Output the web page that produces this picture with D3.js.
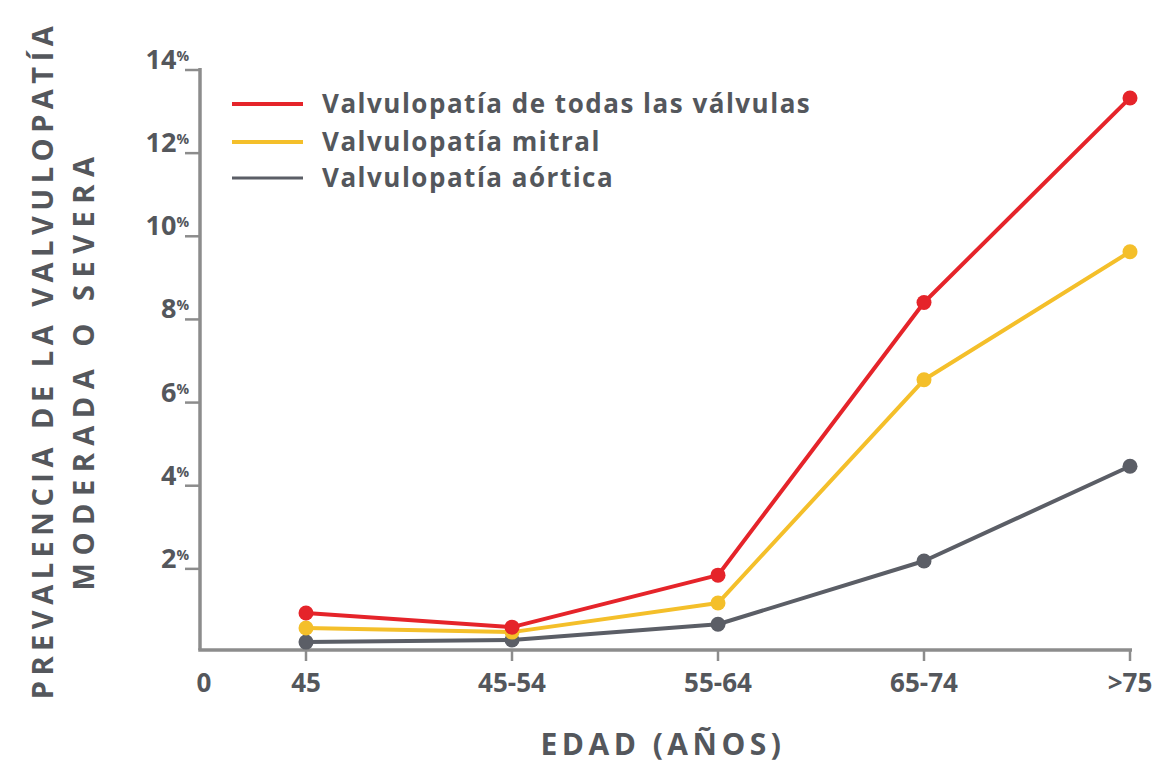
<!DOCTYPE html>
<html>
<head>
<meta charset="utf-8">
<script src="https://cdn.jsdelivr.net/npm/d3@7"></script>
<style>
  body { margin: 0; background: #fff; }
  text { font-family: "Open Sans", sans-serif; }
</style>
</head>
<body>
<svg id="chart" width="1159" height="767"></svg>
<script>
// data
var ages = ["45", "45-54", "55-64", "65-74", ">75"];
var todas = [0.89, 0.55, 1.8, 8.36, 13.28];
var mitral = [0.53, 0.43, 1.13, 6.5, 9.58];
var aortica = [0.19, 0.24, 0.62, 2.14, 4.42];
var yTicks = [2, 4, 6, 8, 10, 12, 14];
var seriesNames = ["Valvulopatía de todas las válvulas", "Valvulopatía mitral", "Valvulopatía aórtica"];
var seriesColors = ["#e5242a", "#f4bf2a", "#5b5e66"];

var margin = {top: 68, right: 19, bottom: 117, left: 200},
    width = 1159 - margin.left - margin.right,
    height = 767 - margin.top - margin.bottom;

var svg = d3.select("#chart")
  .append("g")
  .attr("transform", "translate(" + margin.left + "," + margin.top + ")");

var x = d3.scalePoint().domain(ages).range([106, 930]);
var y = d3.scaleLinear().domain([0, 14]).range([height, 0]);

var textCol = "#54575c", axisCol = "#8c8c8c";

// axes lines
svg.append("line").attr("x1", 0).attr("x2", 0).attr("y1", 0).attr("y2", height)
  .attr("stroke", axisCol).attr("stroke-width", 3.5);
svg.append("line").attr("x1", -1.75).attr("x2", 932).attr("y1", height).attr("y2", height)
  .attr("stroke", axisCol).attr("stroke-width", 3.5);

// y ticks
var yt = svg.selectAll(".ytick").data(yTicks).enter().append("g")
  .attr("transform", function(d) { return "translate(0," + (y(d) + 2) + ")"; });
yt.append("line").attr("x1", -15).attr("x2", 0).attr("stroke", axisCol).attr("stroke-width", 2.5);
var ytx = yt.append("text").attr("x", -11).attr("y", -1).attr("text-anchor", "end")
  .attr("fill", textCol).style("font-weight", 700).style("font-size", "27px");
ytx.append("tspan").text(function(d) { return d; });
ytx.append("tspan").attr("dy", -8).style("font-size", "14px").text("%");

// x ticks
var xt = svg.selectAll(".xtick").data(ages).enter().append("g")
  .attr("transform", function(d) { return "translate(" + x(d) + "," + height + ")"; });
xt.append("line").attr("y1", 0).attr("y2", 11).attr("stroke", axisCol).attr("stroke-width", 2.5);
xt.append("text").attr("y", 42).attr("text-anchor", "middle").attr("fill", textCol)
  .style("font-weight", 700).style("font-size", "26px").text(function(d) { return d; });
svg.append("text").attr("x", 4).attr("y", height + 42).attr("text-anchor", "middle").attr("fill", textCol)
  .style("font-weight", 700).style("font-size", "26px").text("0");

// lines
var line = d3.line().x(function(d, i) { return x(ages[i]); }).y(function(d) { return y(d); });
var series = [aortica, mitral, todas];
var cols = [seriesColors[2], seriesColors[1], seriesColors[0]];
series.forEach(function(s, k) {
  svg.append("path").datum(s).attr("d", line).attr("fill", "none")
    .attr("stroke", cols[k]).attr("stroke-width", 4).attr("stroke-linejoin", "round");
});
series.forEach(function(s, k) {
  svg.selectAll(".pt" + k).data(s).enter().append("circle")
    .attr("cx", function(d, i) { return x(ages[i]); })
    .attr("cy", function(d) { return y(d); })
    .attr("r", 7.5).attr("fill", cols[k]);
});

// legend
var leg = svg.selectAll(".leg").data(seriesNames).enter().append("g")
  .attr("transform", function(d, i) { return "translate(32," + [36, 74, 110][i] + ")"; });
leg.append("line").attr("x1", 0).attr("x2", 71).attr("stroke", function(d, i) { return seriesColors[i]; })
  .attr("stroke-width", function(d, i) { return i == 2 ? 3 : 4; });
leg.append("text").attr("x", 90).attr("y", 9).attr("fill", textCol)
  .style("font-weight", 700).style("font-size", "26px").style("letter-spacing", "1.5px")
  .text(function(d) { return d; });

// axis titles
svg.append("text").attr("x", 463).attr("y", height + 105).attr("text-anchor", "middle")
  .attr("fill", textCol).style("font-weight", 700).style("font-size", "30px")
  .style("letter-spacing", "4.5px").text("EDAD (AÑOS)");

var yt1 = d3.select("#chart").append("text")
  .attr("transform", "translate(53,360) rotate(-90)").attr("text-anchor", "middle")
  .attr("fill", textCol).style("font-weight", 700).style("font-size", "29px").style("letter-spacing", "5.5px");
yt1.append("tspan").attr("x", 0).attr("y", 0).text("PREVALENCIA DE LA VALVULOPATÍA");
yt1.append("tspan").attr("x", -10).attr("y", 41).style("letter-spacing", "7.5px").text("MODERADA O SEVERA");
</script>
</body>
</html>
